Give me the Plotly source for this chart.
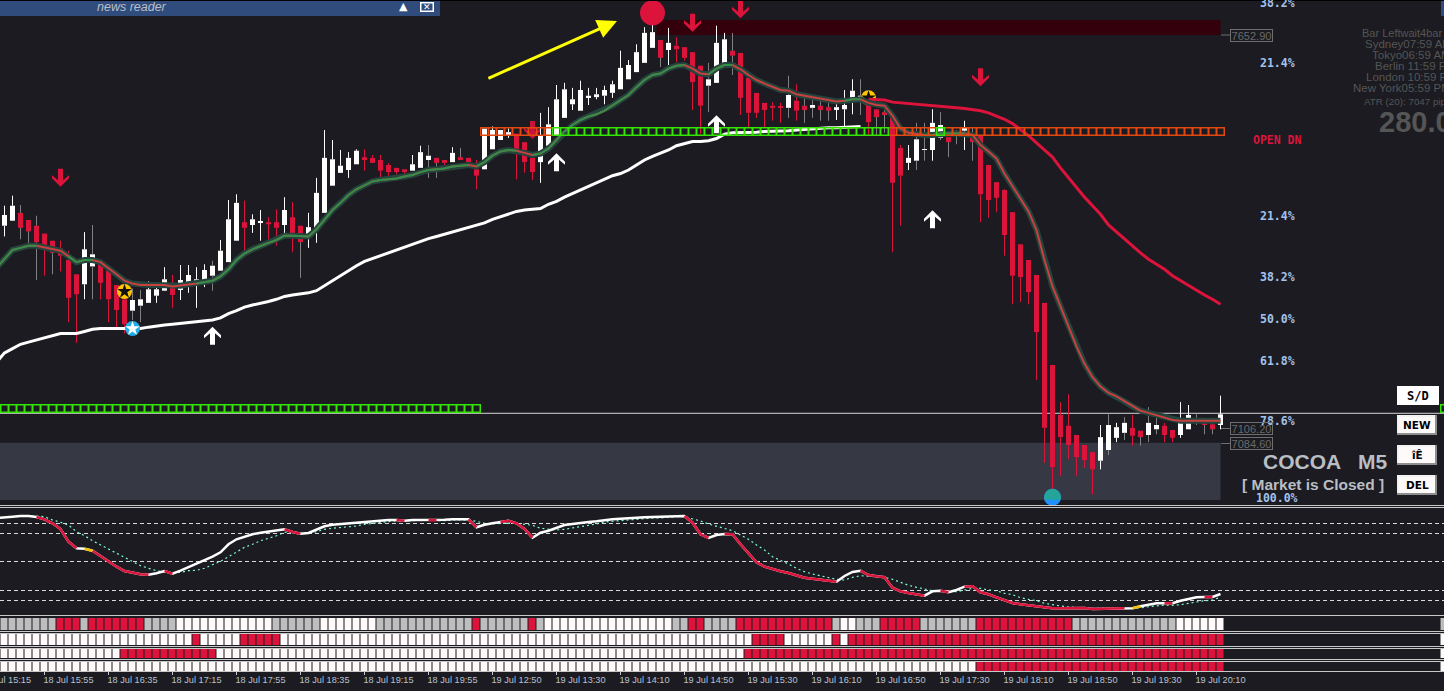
import plotly.graph_objects as go

W, H = 1444, 691
BG = "#1B1B21"
CRIMSON = "#DC143C"

# ---------- price data (5 minute bars) ----------
opens = [7384,7391,7402,7392,7384,7373,7363,7352,7336,7316,7302,7327,7330,7321,7301,7281,7265,7272,7276,7286,
 7293,7301,7294,7305,7301,7308,7314,7321,7333,7363,7389,7385,7388,7389,7389,7385,7396,7384,7371,7378,
 7402,7440,7458,7462,7470,7480,7479,7476,7469,7465,7463,7461,7465,7476,7479,7476,7473,7480,7479,7463,
 7463,7491,7504,7510,7513,7501,7479,7473,7496,7511,7535,7554,7545,7564,7564,7566,7570,7575,7589,7599,
 7612,7633,7644,7630,7636,7634,7627,7608,7580,7584,7612,7629,7626,7591,7570,7556,7552,7550,7549,7559,
 7552,7549,7552,7550,7546,7547,7563,7560,7554,7547,7543,7539,7493,7472,7475,7490,7490,7507,7508,7514,
 7517,7510,7510,7469,7445,7434,7403,7358,7336,7315,7276,7189,7119,7104,7091,7077,7067,7055,7070,7087,
 7094,7101,7097,7091,7099,7104,7098,7091,7099,7108,7108,7106,7105]
highs = [7412,7426,7413,7392,7398,7373,7363,7363,7349,7316,7375,7385,7337,7327,7301,7301,7296,7294,7306,7301,
 7326,7315,7329,7329,7326,7330,7335,7364,7420,7428,7419,7400,7406,7396,7407,7424,7417,7384,7402,7451,
 7518,7504,7490,7487,7491,7491,7483,7483,7472,7465,7463,7483,7496,7497,7479,7476,7494,7493,7479,7476,
 7520,7523,7518,7520,7513,7501,7479,7542,7550,7581,7584,7577,7587,7577,7577,7580,7587,7629,7616,7638,
 7662,7672,7644,7661,7648,7634,7627,7608,7612,7664,7654,7654,7626,7591,7570,7556,7557,7556,7594,7582,
 7564,7563,7559,7557,7559,7574,7589,7589,7567,7547,7547,7539,7497,7497,7528,7528,7547,7543,7508,7518,
 7531,7522,7510,7469,7445,7435,7403,7358,7336,7315,7276,7189,7137,7148,7091,7077,7067,7105,7120,7108,
 7116,7119,7097,7130,7115,7108,7098,7137,7133,7120,7112,7112,7146]
lows = [7369,7391,7365,7358,7308,7314,7316,7320,7249,7220,7281,7281,7281,7249,7238,7233,7252,7249,7276,7276,
 7293,7269,7280,7290,7269,7298,7293,7321,7333,7363,7349,7374,7363,7364,7356,7370,7347,7311,7353,7360,
 7402,7440,7458,7451,7470,7461,7472,7451,7449,7456,7456,7461,7465,7451,7451,7469,7473,7476,7473,7435,
 7463,7491,7504,7507,7449,7458,7448,7444,7496,7511,7535,7546,7545,7553,7561,7554,7563,7575,7589,7599,
 7612,7633,7606,7609,7613,7615,7546,7512,7543,7584,7612,7595,7539,7522,7535,7521,7531,7528,7535,7531,
 7528,7535,7531,7531,7532,7521,7540,7539,7511,7511,7514,7347,7384,7462,7462,7475,7475,7504,7480,7498,
 7490,7475,7389,7395,7403,7342,7274,7277,7274,7168,7052,7008,7034,7057,7034,7045,7008,7043,7063,7081,
 7084,7076,7076,7081,7092,7081,7081,7087,7099,7105,7092,7092,7099]
closes = [7399,7412,7381,7376,7361,7357,7346,7342,7283,7288,7351,7344,7304,7281,7266,7246,7280,7281,7295,7295,
 7309,7287,7308,7315,7309,7322,7328,7349,7393,7416,7381,7393,7389,7386,7381,7406,7372,7361,7382,7430,
 7479,7477,7468,7479,7489,7476,7472,7461,7459,7459,7459,7470,7487,7482,7472,7472,7486,7476,7473,7454,
 7520,7518,7518,7515,7491,7473,7459,7511,7526,7561,7575,7561,7574,7566,7568,7574,7582,7605,7609,7627,
 7654,7655,7619,7640,7631,7619,7585,7552,7589,7640,7645,7622,7563,7542,7542,7546,7549,7549,7567,7545,
 7546,7553,7546,7545,7550,7553,7573,7566,7529,7536,7539,7444,7454,7479,7505,7491,7528,7525,7501,7515,
 7521,7501,7428,7420,7423,7371,7314,7312,7291,7235,7101,7046,7088,7077,7060,7056,7043,7088,7105,7102,
 7108,7090,7088,7108,7105,7091,7087,7108,7119,7112,7105,7099,7120]
grey_wick_bars = [2,3,4,6,11,16,17,26,37,53,54,57,82,88,91,98,100,101,102,103,107,109,110,114,115,117,118,119,121,
                  138,140,142,143,144,149,150,151]

# moving averages, first value is the bar left of the window
fast_ma = [7325,7337,7350,7353,7356,7356,7354,7352,7349,7341,7333,7336,7336,7333,7325,7316,7307,7303,7301,7301,7301,
 7301,7299,7300,7302,7303,7305,7307,7313,7323,7336,7345,7351,7356,7360,7364,7370,7370,7369,7369,7379,
 7393,7406,7416,7427,7435,7441,7446,7448,7449,7450,7453,7455,7459,7462,7463,7464,7467,7468,7469,7467,
 7473,7482,7488,7490,7489,7486,7483,7485,7492,7504,7516,7525,7532,7537,7540,7545,7552,7560,7567,7578,
 7588,7595,7597,7604,7608,7609,7604,7597,7596,7604,7609,7609,7603,7595,7588,7583,7579,7574,7573,7568,
 7566,7564,7562,7559,7558,7559,7561,7561,7556,7553,7552,7538,7520,7514,7512,7511,7511,7513,7513,7513,
 7513,7511,7497,7488,7478,7457,7439,7422,7404,7378,7336,7299,7271,7243,7215,7191,7172,7159,7150,7145,
 7138,7131,7125,7122,7119,7116,7112,7111,7111,7112,7111,7111,7111]
fast_rising_runs = [(-1,4),(8,11),(24,58),(59,64),(66,85),(88,91),(105,107),(115,120)]

slow_ma_up = [7193,7206,7212,7218,7221,7224,7226,7230,7233,7233,7233,7236,7239,7240,7240,7240,7240,7240,7240,7242,
 7244,7245,7246,7247,7249,7250,7251,7252,7255,7261,7265,7270,7273,7275,7278,7281,7285,7287,7288,7290,
 7293,7300,7308,7315,7322,7328,7334,7338,7343,7346,7351,7355,7359,7363,7366,7369,7372,7376,7379,7382,
 7384,7388,7393,7397,7401,7404,7406,7407,7408,7414,7418,7424,7429,7433,7438,7444,7448,7454,7457,7462,
 7469,7476,7481,7485,7490,7496,7499,7502,7502,7503,7506,7512,7514,7514,7514.5,7515,7516,7516,7517,7517,
 7518,7519,7519,7520,7521,7521,7522,7522,7523]
slow_ma_dn = [7561,7561,7560,7557,7556,7554,7553,7552,7552,7550,7550,7549,7548,7547,7545,7542,7538,7533,7527,7519,
 7510,7500,7490,7480,7465,7451,7437,7424,7412,7400,7385,7375,7365,7356,7346,7337,7330,7323,7314,7307,
 7300,7294,7287,7281,7274]
SLOW_DN_START = 108

# oscillator, first value is the bar left of the window
osc_main = [97,97.3,98.3,99,99,98,95.7,91.7,86,73.3,66.7,66.3,64.3,59,53.7,48.3,44,42.7,40.7,40.3,41.7,
 44,41.3,44.3,47.7,50.7,54.7,58.3,62.7,70.7,75.7,78.3,80.7,82.3,83.3,84.3,85.7,83,81.3,82,85,
 88.7,90.3,91,92,92.7,93.3,93.7,95,95,95,94.3,95,95,95,94.7,95.3,95.7,95.7,95.7,87.7,
 90.3,91.7,93,94.3,91.7,86,77.3,82.3,84.3,87.3,90,91,92.3,93,93.7,95,95.7,96.3,97,97,
 97.7,98,98.3,99,99,99,92.3,80.7,77,80,81,80.7,70.7,61.7,52.7,48.3,45.7,43.7,42,39.7,
 37.3,36.3,35.3,34.3,33.3,39,43,44.3,40,38.7,37.7,27.3,23.7,22,21,19.3,23.7,24.3,22.7,25,
 28.3,28.7,22.7,20.7,17.7,15,12,10.7,9.7,8.3,7.3,6.7,6.7,6.7,6.7,7,6,6,6,6,
 6.7,6.7,8.7,10.3,11.7,11.7,11.7,14.3,16.3,17.7,18,18,21]
osc_signal = [97,97.3,98,98.7,99,99,98.3,95,92.7,90,83.3,79.3,74.3,70,66,61.7,57.7,53.3,49.3,46.7,44.3,
 42.7,42,42.7,44.3,44.7,46.7,50.3,53.7,58.3,63.3,67.7,70.7,74.3,76.7,79.3,82.7,83,82,81.7,83.3,
 85.7,86.7,87.3,88,89,90.7,91.7,93,93.7,94.3,94,94.7,94.7,94.7,94.3,94.3,95,95.3,95,93.7,
 91.7,91.3,91.7,91.7,91.7,90.7,89.7,86.7,85.7,85,85.7,87,88.3,90,91,93,93.7,94.3,95,96,
 96.3,97,97,97.7,98.3,98.3,96.3,94,91,89,87,84.3,80,75.7,70,65,58.3,55,51,46.7,
 43.3,41,39,37,35.7,35,37.7,39.3,39,38.3,37.7,35.7,32.3,29.7,27.7,25.7,24.3,24.3,23.3,23.3,
 25,26.7,26.7,25,24.3,21.7,20.3,17.3,15.7,14.3,11.7,10,9,8,7.3,7,6.7,6.7,6.3,6,
 6,6.7,7.3,8,9.3,10,9.7,10.3,11.7,13.3,14.3,15,17.7]
osc_levels = [91.7,81.7,53.7,24.7,14.7]
osc_red_runs = [(4,9),(11,18),(20,21),(35,37),(49,50),(53,54),(58,59),(62,66),(85,88),(90,104),(107,115),
                (117,118),(120,140),(145,146),(150,151)]
osc_yellow_runs = [(10,11),(141,142)]

# state rows: g grey, w white, r red, _ empty
row1_runs = [("g",7),("r",3),("g",1),("r",7),("g",4),("w",12),("g",6),("w",7),("g",12),("r",1),("g",6),("r",1),("g",1),
             ("w",16),("g",2),("r",2),("g",4),("r",12),("g",1),("w",2),("g",3),("r",5),("g",7),("r",12),("g",13),("w",6),("_",27),("g",1)]
row2_runs = [("w",24),("r",1),("w",5),("r",5),("w",59),("r",4),("w",6),("r",1),("w",1),("r",47),("_",27),("w",1)]
row3_runs = [("w",15),("r",12),("w",66),("r",60),("_",27),("w",1)]
row4_runs = [("w",122),("r",31),("_",27),("w",1)]

# square level rows
upper_box_runs = [(60,68,"o"),(69,110,"g"),(111,116,"o"),(117,117,"g"),(118,152,"o")]
lower_box_runs = [(0,59,"g"),(180,180,"g")]
UPPER_BOX_PRICE, LOWER_BOX_PRICE = 7515.9, 7128.1

# signal marks (bar, price)
down_arrows = [(7,7451),(86,7668),(92,7687),(122,7592)]
down_arrow_under = [(66,7518)]
up_arrows = [(26,7230),(69,7473),(89,7526),(116,7393)]

tick_bars = list(range(5,150,8))
tick_labels = ["18 Jul 15:55","18 Jul 16:35","18 Jul 17:15","18 Jul 17:55","18 Jul 18:35","18 Jul 19:15","18 Jul 19:55",
 "19 Jul 12:50","19 Jul 13:30","19 Jul 14:10","19 Jul 14:50","19 Jul 15:30","19 Jul 16:10","19 Jul 16:50","19 Jul 17:30",
 "19 Jul 18:10","19 Jul 18:50","19 Jul 19:30","19 Jul 20:10"]

fib_labels = [("38.2%",3),("21.4%",63),("21.4%",216),("38.2%",277),("50.0%",319),("61.8%",361),("78.6%",421)]
price_tags = [("7652.90",35),("7106.20",428.5),("7084.60",443.5)]
info_lines = [("Bar Leftwait4bar",1362,33,11),("Sydney07:59 AM",1365,44,11.5),("Tokyo06:59 AM",1372,55,11.5),("Berlin 11:59 PM",1374.5,66,11.5),
              ("London 10:59 PM",1365.5,77,11.5),("New York05:59 PM",1352.5,88,11.5)]

n = len(opens)
bars = list(range(n))
fig = go.Figure()


def spans(runs):
    xs = []
    for a, b in runs:
        xs += list(range(a, b + 1)) + [None]
    return xs


def run_values(series, offset, runs):
    out = []
    for a, b in runs:
        out += [series[i + offset] for i in range(a, b + 1)] + [None]
    return out


def expand(runs):
    code = {"g": 0, "w": 1, "r": 2, "_": None}
    out = []
    for c, k in runs:
        out += [code[c]] * k
    return out


# ---- candles: bodies are bars, wicks are thin lines
up = [i for i in bars if closes[i] >= opens[i]]
dn = [i for i in bars if closes[i] < opens[i]]
for idx, col in ((up, "#FFFFFF"), (dn, CRIMSON)):
    fig.add_trace(go.Bar(x=idx, base=[min(opens[i], closes[i]) for i in idx],
                         y=[max(abs(closes[i] - opens[i]), 1.4) for i in idx], width=0.625,
                         marker=dict(color=col, line=dict(width=0)), xaxis="x", yaxis="y", hoverinfo="skip"))


def wick_trace(idx, col):
    xs, ys = [], []
    for i in idx:
        t, b = max(opens[i], closes[i]), min(opens[i], closes[i])
        if highs[i] > t:
            xs += [i, i, None]; ys += [highs[i], t, None]
        if lows[i] < b:
            xs += [i, i, None]; ys += [b, lows[i], None]
    fig.add_trace(go.Scatter(x=xs, y=ys, mode="lines", line=dict(color=col, width=1), xaxis="x", yaxis="y", hoverinfo="skip"))


g = set(grey_wick_bars)
wick_trace([i for i in up if i not in g], "#FFFFFF")
wick_trace([i for i in dn if i not in g], CRIMSON)
wick_trace(grey_wick_bars, "#808080")

# ---- star that sits under the averages
fig.add_trace(go.Scatter(x=[108], y=[7563], mode="markers", marker=dict(size=15, color="#FFC600"), hoverinfo="skip"))
fig.add_trace(go.Scatter(x=[108], y=[7563], mode="markers", marker=dict(size=11, color="#111111", symbol="star"), hoverinfo="skip"))

# ---- moving averages
xs_ma = list(range(-1, n))
fig.add_trace(go.Scatter(x=list(range(-1, len(slow_ma_up) - 1)), y=slow_ma_up, mode="lines", line=dict(color="#FFFFFF", width=3), hoverinfo="skip"))
fig.add_trace(go.Scatter(x=list(range(SLOW_DN_START, n)), y=slow_ma_dn, mode="lines", line=dict(color=CRIMSON, width=3), hoverinfo="skip"))
fig.add_trace(go.Scatter(x=xs_ma, y=fast_ma, mode="lines", line=dict(color="#24443E", width=6), hoverinfo="skip"))
fig.add_trace(go.Scatter(x=xs_ma, y=fast_ma, mode="lines", line=dict(color="#C9403F", width=2), hoverinfo="skip"))
fig.add_trace(go.Scatter(x=spans(fast_rising_runs), y=run_values(fast_ma, 1, fast_rising_runs), mode="lines",
                         line=dict(color="#2F8F48", width=2), hoverinfo="skip"))

# ---- level boxes
col_box = {"o": "#E2480F", "g": "#33E600"}
for runs, price in ((upper_box_runs, UPPER_BOX_PRICE), (lower_box_runs, LOWER_BOX_PRICE)):
    for kind in "og":
        xs = [i for a, b, c in runs if c == kind for i in range(a, b + 1)]
        if xs:
            fig.add_trace(go.Scatter(x=xs, y=[price] * len(xs), mode="markers",
                                     marker=dict(symbol="square-open", size=7.5, color=col_box[kind], line=dict(width=1.5, color=col_box[kind])),
                                     hoverinfo="skip"))

# ---- signals
fig.add_trace(go.Scatter(x=[81], y=[7682], mode="markers", marker=dict(size=25, color=CRIMSON), hoverinfo="skip"))
fig.add_trace(go.Scatter(x=[15], y=[7292], mode="markers", marker=dict(size=15, color="#FFC600"), hoverinfo="skip"))
fig.add_trace(go.Scatter(x=[15], y=[7292], mode="markers", marker=dict(size=11, color="#111111", symbol="star"), hoverinfo="skip"))
fig.add_trace(go.Scatter(x=[16], y=[7240], mode="markers", marker=dict(size=15, color="#1FAEEA"), hoverinfo="skip"))
fig.add_trace(go.Scatter(x=[16], y=[7240], mode="markers", marker=dict(size=11, color="#FFFFFF", symbol="star"), hoverinfo="skip"))
fig.add_trace(go.Scatter(x=[131], y=[7004], mode="markers", marker=dict(size=17, color="#1E90FF"), hoverinfo="skip"))

# ---- oscillator
fig.add_trace(go.Scatter(x=xs_ma, y=osc_signal, mode="lines", line=dict(color="#7FFFD4", width=1.2, dash="2px,3px"), xaxis="x", yaxis="y2", hoverinfo="skip"))
fig.add_trace(go.Scatter(x=xs_ma, y=osc_main, mode="lines", line=dict(color="#FFFFFF", width=2.5), xaxis="x", yaxis="y2", hoverinfo="skip"))
fig.add_trace(go.Scatter(x=spans(osc_red_runs), y=run_values(osc_main, 1, osc_red_runs), mode="lines", line=dict(color=CRIMSON, width=2.5), xaxis="x", yaxis="y2", hoverinfo="skip"))
fig.add_trace(go.Scatter(x=spans(osc_yellow_runs), y=run_values(osc_main, 1, osc_yellow_runs), mode="lines", line=dict(color="#F5C400", width=2.5), xaxis="x", yaxis="y2", hoverinfo="skip"))

# ---- state rows
scale = [[0, "#BEBEBE"], [0.5, "#FFFAFA"], [1, CRIMSON]]
for k, runs in enumerate((row1_runs, row2_runs, row3_runs, row4_runs)):
    vals = expand(runs)
    fig.add_trace(go.Heatmap(x=list(range(len(vals))), y=[0], z=[vals], zmin=0, zmax=2, colorscale=scale, showscale=False, xgap=1,
                             xaxis="x", yaxis=f"y{k + 3}", hoverinfo="skip"))


def py(p):
    return 1 - p / H


def px(p):
    return p / W


shapes = []


def rect(x0, y0, x1, y1, col, layer="above"):
    shapes.append(dict(type="rect", xref="paper", yref="paper", x0=px(x0), x1=px(x1), y0=py(y0), y1=py(y1),
                       fillcolor=col, line=dict(width=0), layer=layer))


def hline(p, col="#C8C8C8"):
    rect(0, p, W, p + 1, col)


# arrow glyphs: anchored at a bar and a price, drawn in pixels
UP_PATH = "M 0 9 L 8.5 0.5 L 8.5 -2.5 L 2.5 2.5 L 2.5 -9 L -2.5 -9 L -2.5 2.5 L -8.5 -2.5 L -8.5 0.5 Z"
DOWN_PATH = "M 0 -9 L 8.5 -0.5 L 8.5 2.5 L 2.5 -2.5 L 2.5 9 L -2.5 9 L -2.5 -2.5 L -8.5 2.5 L -8.5 -0.5 Z"


def glyph(bar, price, path, col, layer="above"):
    shapes.append(dict(type="path", xref="x", yref="y", xsizemode="pixel", ysizemode="pixel", xanchor=bar, yanchor=price,
                       path=path, fillcolor=col, line=dict(width=0), layer=layer))


# chart-data zones
shapes.append(dict(type="rect", xref="x", yref="y", x0=81.5, x1=152, y0=7651, y1=7672, fillcolor="#33000C", line=dict(width=0), layer="below"))
shapes.append(dict(type="rect", xref="x", yref="y", x0=-0.5625, x1=152, y0=7000, y1=7080, fillcolor="#363844", line=dict(width=0), layer="below"))
shapes.append(dict(type="line", xref="paper", yref="y", x0=0, x1=1, y0=7121.4, y1=7121.4, line=dict(color="#D8D8D8", width=1), layer="below"))
for b, p in down_arrows:
    glyph(b, p, DOWN_PATH, CRIMSON)
for b, p in down_arrow_under:
    glyph(b, p, DOWN_PATH, "#C8143A", layer="below")
for b, p in up_arrows:
    glyph(b, p, UP_PATH, "#FFFFFF")
# upper part of the bottom disc
glyph(131, 7004, "M -8.1 -2.7 C -9.5 3.5 -5 8.5 0 8.5 C 5 8.5 9.5 3.5 8.1 -2.7 Z", "#25A598")

# panel separators
for p in (505, 507, 615, 631, 633, 646, 648, 659, 661):
    hline(p)
rect(0, 0, W, 1, "#000000")

# title bar
rect(0, 1, 440, 16, "#2F4C7C")
rect(420, 2, 434, 12, "#FFFFFF")
rect(421.5, 3.5, 432.5, 10.5, "#2F4C7C")
rect(1441, 1, W, 16, "#2F4C7C")

# tag connectors
for _, p in price_tags:
    rect(1221, p - 0.5, 1231, p + 0.5, "#6E6E6E")


def button(x0, y0, x1, y1, bevel=True):
    if bevel:
        rect(x0, y0, x1, y1, "#8E8E8E")
        rect(x0, y0, x1 - 2, y1 - 2, "#F2F2F2")
        rect(x0 + 2, y0 + 2, x1 - 2, y1 - 2, "#FFFAFA")
    else:
        rect(x0, y0, x1, y1, "#FFFFFF")


button(1397, 386, 1439, 405, bevel=False)
for top in (415, 445, 475):
    button(1397, top, 1437, top + 20)

anns = []


def label(text, x, y, size, color, family="Liberation Sans", anchor="left", bold=False, italic=False, **kw):
    if bold:
        text = f"<b>{text}</b>"
    if italic:
        text = f"<i>{text}</i>"
    if anchor == "left":
        x -= 2  # annotations pad their text box
    anns.append(dict(text=text, xref="paper", yref="paper", x=px(x), y=py(y), xanchor=anchor, yanchor="middle", showarrow=False,
                     font=dict(size=size, color=color, family=family), **kw))


label("news reader", 97, 7, 12.5, "#B9BEC8", italic=True)
label("▲", 403, 6, 11, "#FFFFFF", family="DejaVu Sans", anchor="center")
label("✕", 427, 7, 9, "#FFFFFF", family="DejaVu Sans", anchor="center")

for t, y in fib_labels:
    label(t, 1277, y, 11.5, "#A4C2EA", family="DejaVu Sans Mono", anchor="center", bold=True)
label("100.0%", 1277, 498, 11.5, "#A4C2EA", family="DejaVu Sans Mono", anchor="center", bold=True)
label("OPEN DN", 1277, 140, 11.5, CRIMSON, family="DejaVu Sans Mono", anchor="center", bold=True)

for t, y in price_tags:
    anns.append(dict(text=t, xref="paper", yref="paper", x=px(1251.5), y=py(y), xanchor="center", yanchor="middle", showarrow=False,
                     font=dict(size=11, color="#6A6A6A", family="Liberation Sans"), bordercolor="#6E6E6E", borderwidth=1, borderpad=0, width=41, height=11))

for t, x, y, s in info_lines:
    label(t, x, y, s, "#555555")
label("ATR (20): 7047 pips", 1364, 102, 9.8, "#555555")
label("280.0", 1379, 122, 29, "#555555", bold=True)

label("COCOA   M5", 1263, 462, 21, "#B9BDC4", bold=True)
label("[ Market is Closed ]", 1242, 484.5, 15.5, "#B9BDC4", bold=True)

label("S/D", 1418, 395.5, 12, "#000000", family="DejaVu Sans Mono", anchor="center", bold=True)
label("NEW", 1417, 425, 10.5, "#000000", family="DejaVu Sans", anchor="center", bold=True)
label("îÊ", 1417, 455, 10.5, "#000000", family="DejaVu Sans", anchor="center", bold=True)
label("DEL", 1417, 485, 10.5, "#000000", family="DejaVu Sans", anchor="center", bold=True)

# yellow trend arrow
anns.append(dict(x=76.56, y=7670.6, ax=60.3, ay=7589.4, xref="x", yref="y", axref="x", ayref="y", text="", showarrow=True,
                 arrowhead=2, arrowsize=1.3, arrowwidth=3, arrowcolor="#FFFF00", standoff=0))
# first time label, its tick is left of the window
anns.append(dict(text="18 Jul 15:15", xref="paper", yref="paper", x=px(-21), y=py(680), xanchor="left", yanchor="middle", showarrow=False,
                 font=dict(size=9.2, color="#B8C2D0", family="Liberation Sans")))

hidden = dict(visible=False, fixedrange=True)


def dom(top, bottom):
    return [1 - bottom / H, 1 - top / H]


fig.update_layout(
    width=W, height=H, autosize=False, margin=dict(l=0, r=0, t=0, b=0),
    paper_bgcolor=BG, plot_bgcolor=BG, showlegend=False, hovermode=False, barmode="overlay",
    shapes=shapes, annotations=anns,
    xaxis=dict(domain=[0, 1], range=[-0.5625, 179.9375], anchor="y6", showgrid=False, zeroline=False, showline=True,
               linecolor="#C8C8C8", linewidth=1, ticks="outside", ticklen=3, tickcolor="#C8C8C8", tickwidth=1,
               tickmode="array", tickvals=tick_bars, ticktext=tick_labels, ticklabelshift=24, ticklabelstandoff=-3, tickangle=0,
               tickfont=dict(size=9.2, color="#B8C2D0", family="Liberation Sans"), fixedrange=True),
    yaxis=dict(domain=dom(0, 505), range=[6993, 7700], **hidden),
    yaxis2=dict(domain=dom(507.5, 615), range=[0, 107.5], showgrid=True, gridcolor="#D8D8D8", gridwidth=1, griddash="4px,3px",
                tickmode="array", tickvals=osc_levels, showticklabels=False, ticks="", zeroline=False, showline=False, fixedrange=True),
    yaxis3=dict(domain=dom(618, 630), range=[-0.5, 0.5], **hidden),
    yaxis4=dict(domain=dom(634, 645), range=[-0.5, 0.5], **hidden),
    yaxis5=dict(domain=dom(648, 658), range=[-0.5, 0.5], **hidden),
    yaxis6=dict(domain=dom(661, 671), range=[-0.5, 0.5], **hidden),
)

fig.write_html("out.html", config={"displayModeBar": False},
               post_script="document.body.style.margin='0';document.body.style.background='" + BG + "';")
